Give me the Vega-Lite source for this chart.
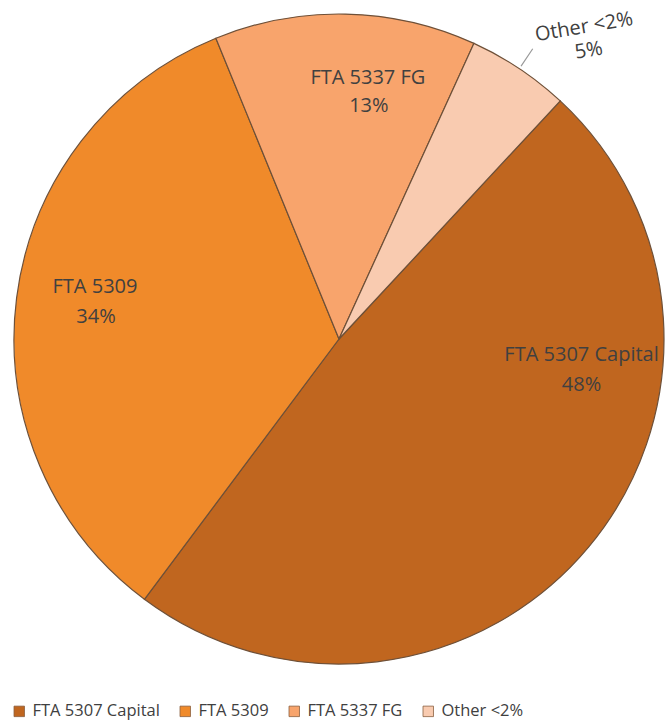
{
  "$schema": "https://vega.github.io/schema/vega-lite/v6.json",
  "width": 678,
  "height": 678,
  "autosize": {"type": "none"},
  "padding": {"left": 0, "top": 0, "right": 0, "bottom": 49},
  "background": "#ffffff",
  "config": {
    "view": {"stroke": null},
    "text": {"font": "Open Sans", "fontSize": 20, "fill": "#404040", "align": "center", "baseline": "middle"}
  },
  "data": {
    "values": [
      {"cat": "FTA 5307 Capital", "share": 0.483},
      {"cat": "FTA 5309", "share": 0.336},
      {"cat": "FTA 5337 FG", "share": 0.13},
      {"cat": "Other <2%", "share": 0.051}
    ]
  },
  "layer": [
    {
      "mark": {"type": "arc", "outerRadius": 325, "stroke": "#6e5038", "strokeWidth": 1.2},
      "encoding": {
        "theta": {"field": "share", "type": "quantitative", "stack": true, "scale": {"range": [0.7487, 7.0319]}},
        "order": {"field": "cat", "type": "ordinal", "sort": "ascending"},
        "color": {
          "field": "cat", "type": "nominal",
          "scale": {"domain": ["FTA 5307 Capital", "FTA 5309", "FTA 5337 FG", "Other <2%"], "range": ["#c0661f", "#f08a2a", "#f8a46c", "#f9cbb0"]},
          "legend": {
            "title": null, "orient": "none", "legendX": 11, "legendY": 703, "direction": "horizontal",
            "symbolType": "square", "symbolSize": 110, "symbolStrokeWidth": 0.8, "symbolStrokeColor": "#8a6040",
            "labelFont": "Open Sans", "labelFontSize": 16.5, "labelColor": "#404040", "labelOffset": 5,
            "columnPadding": 17, "padding": 0
          }
        }
      }
    },
    {
      "mark": {"type": "arc", "padAngle": 0.8, "innerRadius": 328, "outerRadius": 349, "fillOpacity": 0, "strokeWidth": 1.2},
      "encoding": {
        "theta": {"field": "share", "type": "quantitative", "stack": true},
        "order": {"field": "cat", "type": "ordinal", "sort": "ascending"},
        "detail": {"field": "cat", "type": "nominal"},
        "stroke": {"condition": {"test": "datum.cat === 'Other <2%'", "value": "#9a9a9a"}, "value": "transparent"}
      }
    },
    {
      "mark": {"type": "text", "radius": 200, "dx": 89, "dy": -112},
      "encoding": {
        "theta": {"field": "share", "type": "quantitative", "stack": true},
        "order": {"field": "cat", "type": "ordinal", "sort": "ascending"},
        "detail": {"field": "cat", "type": "nominal"},
        "text": {"condition": {"test": "datum.cat === 'FTA 5307 Capital'", "field": "cat"}, "value": ""}
      }
    },
    {
      "mark": {"type": "text", "radius": 200, "dx": 89, "dy": -82},
      "encoding": {
        "theta": {"field": "share", "type": "quantitative", "stack": true},
        "order": {"field": "cat", "type": "ordinal", "sort": "ascending"},
        "detail": {"field": "cat", "type": "nominal"},
        "text": {"condition": {"test": "datum.cat === 'FTA 5307 Capital'", "field": "share", "format": ".0%"}, "value": ""}
      }
    },
    {
      "mark": {"type": "text", "radius": 245, "dx": -1, "dy": -21},
      "encoding": {
        "theta": {"field": "share", "type": "quantitative", "stack": true},
        "order": {"field": "cat", "type": "ordinal", "sort": "ascending"},
        "detail": {"field": "cat", "type": "nominal"},
        "text": {"condition": {"test": "datum.cat === 'FTA 5309'", "field": "cat"}, "value": ""}
      }
    },
    {
      "mark": {"type": "text", "radius": 245, "dx": 0, "dy": 9},
      "encoding": {
        "theta": {"field": "share", "type": "quantitative", "stack": true},
        "order": {"field": "cat", "type": "ordinal", "sort": "ascending"},
        "detail": {"field": "cat", "type": "nominal"},
        "text": {"condition": {"test": "datum.cat === 'FTA 5309'", "field": "share", "format": ".0%"}, "value": ""}
      }
    },
    {
      "mark": {"type": "text", "radius": 245, "dx": 24, "dy": -16},
      "encoding": {
        "theta": {"field": "share", "type": "quantitative", "stack": true},
        "order": {"field": "cat", "type": "ordinal", "sort": "ascending"},
        "detail": {"field": "cat", "type": "nominal"},
        "text": {"condition": {"test": "datum.cat === 'FTA 5337 FG'", "field": "cat"}, "value": ""}
      }
    },
    {
      "mark": {"type": "text", "radius": 245, "dx": 25, "dy": 12},
      "encoding": {
        "theta": {"field": "share", "type": "quantitative", "stack": true},
        "order": {"field": "cat", "type": "ordinal", "sort": "ascending"},
        "detail": {"field": "cat", "type": "nominal"},
        "text": {"condition": {"test": "datum.cat === 'FTA 5337 FG'", "field": "share", "format": ".0%"}, "value": ""}
      }
    },
    {
      "mark": {"type": "text", "radius": 390, "angle": -9.5, "dx": 26, "dy": 17},
      "encoding": {
        "theta": {"field": "share", "type": "quantitative", "stack": true},
        "order": {"field": "cat", "type": "ordinal", "sort": "ascending"},
        "detail": {"field": "cat", "type": "nominal"},
        "text": {"condition": {"test": "datum.cat === 'Other <2%'", "field": "cat"}, "value": ""}
      }
    },
    {
      "mark": {"type": "text", "radius": 390, "angle": -9.5, "dx": 27, "dy": 41},
      "encoding": {
        "theta": {"field": "share", "type": "quantitative", "stack": true},
        "order": {"field": "cat", "type": "ordinal", "sort": "ascending"},
        "detail": {"field": "cat", "type": "nominal"},
        "text": {"condition": {"test": "datum.cat === 'Other <2%'", "field": "share", "format": ".0%"}, "value": ""}
      }
    }
  ]
}
